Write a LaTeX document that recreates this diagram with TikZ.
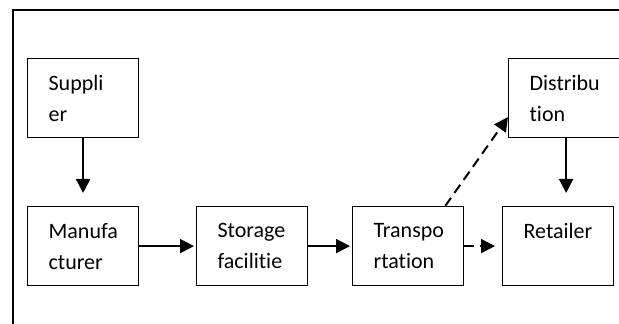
\documentclass[tikz,border=0pt]{standalone}
\usepackage{fontspec}
\setmainfont{Carlito}[Ligatures={NoCommon}]
\usepackage{tikz}
\usetikzlibrary{arrows.meta,calc}

\begin{document}
\begin{tikzpicture}[x=.5pt,y=-.5pt,
 box/.style={draw,line width=.6pt,rectangle,anchor=north west,minimum width=55.5pt,minimum height=39.5pt,
  inner xsep=10.5pt,inner ysep=0pt,text width=34.5pt,align=left,font=\fontsize{11}{15.5}\selectfont},
 arr/.style={line width=1pt,-{Triangle[length=7pt,width=7pt]}},
 dsh/.style={arr,dash pattern=on 5pt off 3pt}]
\useasboundingbox (0,0) rectangle (619,324);
% frame
\draw[line width=1pt] (13,340) -- (13,10) -- (640,10);
% boxes
\node[box] (sup) at (27,58) {Suppli\\er};
\node[box] (man) at (27,206) {Manufa\\cturer};
\node[box] (sto) at (196,206) {Storage\\facilitie};
\node[box] (tra) at (352,206) {Transpo\\rtation};
\node[box] (ret) at (502,206) {Retailer\\\mbox{}};
\node[box,minimum width=57.5pt,text width=36.5pt] (dis) at (508,58) {Distribu\\tion};
% flows
\draw[arr,shorten >=6.5pt] (sup) -- (man);
\draw[arr,shorten >=1pt] (man) -- (sto);
\draw[arr,shorten >=1pt] (sto) -- (tra);
\draw[dsh,shorten >=3.5pt] (tra) -- (ret);
\draw[dsh] ($(tra.north east)+(-19,0)$) -- ($(dis.west)+(0,19)$);
\draw[arr,shorten >=6.5pt] (dis.south) -- (dis.south |- ret.north);
\end{tikzpicture}
\end{document}
